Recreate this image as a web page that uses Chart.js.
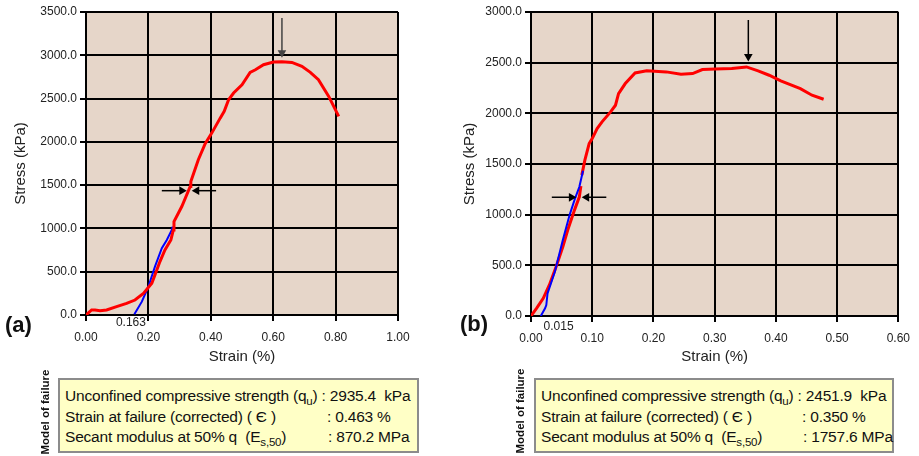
<!DOCTYPE html>
<html lang="en">
<head>
<meta charset="UTF-8">
<title>Unconfined compression test</title>
<script src="https://cdn.jsdelivr.net/npm/chart.js"></script>
<style>
    body { margin: 0; width: 919px; height: 456px; background: #fff; position: relative; overflow: hidden;
           font-family: "Liberation Sans", Arial, sans-serif; color: #111; }
    .panel { position: absolute; top: 0; height: 370px; }
    #panelA { left: 0; width: 455px; }
    #panelB { left: 455px; width: 464px; }
    .tag { position: absolute; font-weight: bold; font-size: 22px; line-height: 24px; }
    .side { position: absolute; width: 100px; height: 14px; line-height: 14px; text-align: center;
            font-weight: bold; font-size: 11.5px; transform: rotate(-90deg); white-space: nowrap; }
    .box { position: absolute; top: 378px; height: 75px; background: #ffffc6; border: 2px solid #8c8c8c;
           box-sizing: border-box; padding: 6px 0 0 5px; font-size: 15.5px; line-height: 20.5px;
           letter-spacing: -0.2px; }
    .row { position: relative; white-space: nowrap; height: 20.5px; }
    .val { position: absolute; top: 0; }
    sub { font-size: 11.5px; line-height: 0; }
</style>
</head>
<body>
<div class="panel" id="panelA"><canvas id="chartA"></canvas></div>
<div class="panel" id="panelB"><canvas id="chartB"></canvas></div>

<div class="tag" style="left:5px; top:313px;">(a)</div>
<div class="tag" style="left:460px; top:312px;">(b)</div>

<div class="side" style="left:-5px; top:405px;">Model of failure</div>
<div class="side" style="left:470px; top:404px;">Model of failure</div>

<div class="box" style="left:58px; width:361px;">
    <div class="row">Unconfined compressive strength (q<sub>u</sub>) : 2935.4&nbsp; kPa</div>
    <div class="row">Strain at failure (corrected) ( Є )<span class="val" style="left:262px;">: 0.463 %</span></div>
    <div class="row">Secant modulus at 50% q&nbsp; (E<sub>s,50</sub>)<span class="val" style="left:263px;">: 870.2 MPa</span></div>
</div>
<div class="box" style="left:534px; width:360px;">
    <div class="row">Unconfined compressive strength (q<sub>u</sub>) : 2451.9&nbsp; kPa</div>
    <div class="row">Strain at failure (corrected) ( Є )<span class="val" style="left:261px;">: 0.350 %</span></div>
    <div class="row">Secant modulus at 50% q&nbsp; (E<sub>s,50</sub>)<span class="val" style="left:262px;">: 1757.6 MPa</span></div>
</div>

<script>
// ---- test (a) ----
const redStrainA = [0, 0.018, 0.029, 0.045, 0.066, 0.098, 0.130, 0.157, 0.184, 0.211, 0.221, 0.237, 0.253, 0.272,
    0.280, 0.282, 0.307, 0.334, 0.336, 0.360, 0.382, 0.403, 0.430, 0.443, 0.457, 0.473, 0.500, 0.526, 0.543,
    0.569, 0.601, 0.628, 0.660, 0.692, 0.719, 0.745, 0.778, 0.810];
const redStressA = [0, 58, 58, 50, 58, 96, 135, 173, 250, 366, 463, 617, 752, 867,
    983, 1079, 1253, 1484, 1542, 1793, 1978, 2101, 2274, 2352, 2486, 2564, 2660, 2803, 2833,
    2891, 2922, 2926, 2918, 2872, 2803, 2718, 2525, 2294];
const blueStrainA = [0.155, 0.179, 0.200, 0.221, 0.243, 0.259, 0.275, 0.278];
const blueStressA = [8, 154, 328, 559, 771, 867, 983, 1021];
const arrowLeftA = { x: [0.243, 0.307], y: [1436, 1436] };
const arrowRightA = { x: [0.417, 0.355], y: [1436, 1436] };
const arrowPeakA = { x: [0.628, 0.628], y: [3431, 3030] };
const startLabelA = { text: '0.163', x: 0.144 };

// ---- test (b) ----
const redStrainB = [0, 0.009, 0.020, 0.030, 0.041, 0.052, 0.060, 0.071, 0.079, 0.0815, 0.082,
    0.083, 0.088, 0.095, 0.100, 0.108, 0.116, 0.130, 0.138, 0.143, 0.154, 0.170, 0.189, 0.221, 0.245,
    0.264, 0.280, 0.301, 0.328, 0.352, 0.371, 0.389, 0.408, 0.440, 0.459, 0.478];
const redStressB = [0, 76, 174, 306, 486, 683, 848, 1045, 1176, 1282, null,
    1390, 1538, 1702, 1751, 1850, 1916, 2014, 2080, 2195, 2294, 2399, 2419, 2409, 2386,
    2392, 2432, 2438, 2442, 2458, 2419, 2376, 2320, 2244, 2179, 2139];
const blueStrainB = [0.016, 0.023, 0.025, 0.027, 0.039, 0.052, 0.063, 0.071, 0.079, 0.085];
const blueStressB = [0, 76, 108, 223, 437, 749, 996, 1143, 1275, 1433];
const arrowLeftB = { x: [0.034, 0.066], y: [1171, 1171] };
const arrowRightB = { x: [0.123, 0.091], y: [1171, 1171] };
const arrowPeakB = { x: [0.355, 0.355], y: [2921, 2560] };
const startLabelB = { text: '0.015', x: 0.045 };

function pts(xs, ys) {
    return xs.map((x, i) => ({ x: x, y: ys[i] }));
}

function curve(xs, ys, color, width) {
    return { data: pts(xs, ys), borderColor: color, borderWidth: width, pointRadius: 0, spanGaps: false };
}

function arrow(a, rot, color) {
    return {
        data: pts(a.x, a.y), borderColor: color, backgroundColor: color, borderWidth: 1.5,
        pointStyle: 'triangle', pointRadius: [0, 5], pointRotation: rot, pointBorderWidth: 0
    };
}

const plotBg = {
    id: 'plotBg',
    beforeDraw(chart) {
        const a = chart.chartArea, ctx = chart.ctx;
        ctx.save();
        ctx.fillStyle = '#e6d6c9';
        ctx.fillRect(a.left, a.top, a.right - a.left, a.bottom - a.top);
        ctx.restore();
    },
    afterDraw(chart) {
        const lab = chart.options.plugins.plotBg.label;
        const ctx = chart.ctx;
        ctx.save();
        ctx.font = '12px "Liberation Sans", Arial, sans-serif';
        ctx.fillStyle = '#222';
        ctx.textAlign = 'center';
        ctx.textBaseline = 'middle';
        ctx.fillText(lab.text, chart.scales.x.getPixelForValue(lab.x), chart.chartArea.bottom + lab.dy);
        ctx.restore();
    }
};

function makeChart(id, datasets, xMax, xStep, yMax, label, yWidth, padLeft, padRight, xHeight) {
    const font = { family: '"Liberation Sans", Arial, sans-serif', size: 12 };
    const grid = { color: '#000', lineWidth: 2, tickLength: 6 };
    return new Chart(document.getElementById(id), {
        type: 'line',
        data: { datasets: datasets },
        plugins: [plotBg],
        options: {
            responsive: true,
            maintainAspectRatio: false,
            animation: false,
            layout: { padding: { top: 12, left: padLeft, right: padRight, bottom: 0 } },
            plugins: { legend: { display: false }, tooltip: { enabled: false }, plotBg: { label: label } },
            scales: {
                x: {
                    type: 'linear', min: 0, max: xMax,
                    grid: grid, border: { color: '#000', width: 2 },
                    ticks: { stepSize: xStep, font: font, color: '#222', padding: 9, maxRotation: 0,
                             callback: v => v.toFixed(2) },
                    title: { display: true, text: 'Strain (%)', color: '#222',
                             font: { family: font.family, size: 15 } },
                    afterFit: s => { s.height = xHeight; }
                },
                y: {
                    min: 0, max: yMax,
                    grid: grid, border: { color: '#000', width: 2 },
                    ticks: { stepSize: 500, font: font, color: '#222', padding: 3,
                             callback: v => v.toFixed(1) },
                    title: { display: true, text: 'Stress (kPa)', color: '#222',
                             font: { family: font.family, size: 15 } },
                    afterFit: s => { s.width = yWidth; }
                }
            }
        }
    });
}

makeChart('chartA', [
    arrow(arrowPeakA, 180, '#444'),
    arrow(arrowLeftA, 90, '#000'),
    arrow(arrowRightA, 270, '#000'),
    curve(redStrainA, redStressA, '#ff0000', 3),
    curve(blueStrainA, blueStressA, '#0000ff', 2)
], 1.0, 0.2, 3500, { text: startLabelA.text, x: startLabelA.x, dy: 8 }, 78, 8, 57, 55);

makeChart('chartB', [
    arrow(arrowPeakB, 180, '#000'),
    arrow(arrowLeftB, 90, '#000'),
    arrow(arrowRightB, 270, '#000'),
    curve(blueStrainB, blueStressB, '#0000ff', 2),
    curve(redStrainB, redStressB, '#ff0000', 3)
], 0.6, 0.1, 3000, { text: startLabelB.text, x: startLabelB.x, dy: 11 }, 74, 2, 15, 54);
</script>
</body>
</html>
